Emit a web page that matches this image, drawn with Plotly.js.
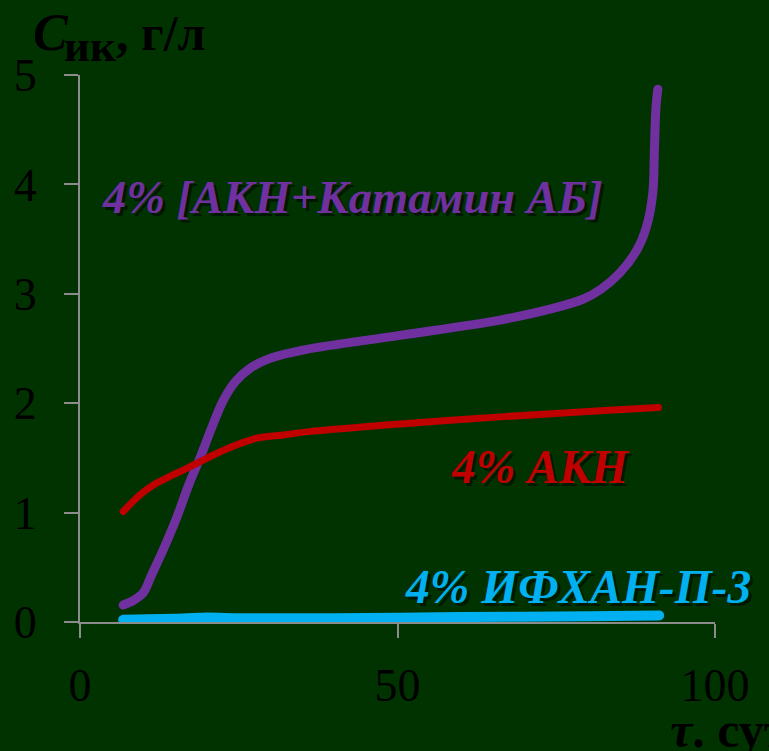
<!DOCTYPE html>
<html>
<head>
<meta charset="utf-8">
<script src="https://cdn.plot.ly/plotly-3.0.1.min.js"></script>
<style>
html,body{margin:0;padding:0;background:#003300;}
path.js-line{stroke-linecap:round !important;stroke-linejoin:round !important;}
</style>
</head>
<body>
<div id="chart" style="width:769px;height:751px;"></div>
<script>
// Data
const purpleX = [6.8, 8.5, 10.0, 11.2, 13.1, 15.2, 17.1, 18.9, 20.7, 22.6, 24.5, 26.8, 29.9, 35.5, 50.4, 66.1, 74, 79.2, 82, 85, 87.7, 89.2, 90.2, 90.45, 90.7, 91.0];
const purpleY = [0.155, 0.2, 0.27, 0.42, 0.66, 0.95, 1.25, 1.5, 1.77, 2.03, 2.2, 2.32, 2.41, 2.49, 2.62, 2.76, 2.86, 2.95, 3.04, 3.19, 3.40, 3.61, 3.92, 4.3, 4.7, 4.87];
const redX = [6.8, 9.4, 11.5, 15.2, 18.4, 21.5, 24.7, 27.8, 32, 36, 50.4, 66.1, 81.9, 91.1];
const redY = [1.01, 1.16, 1.25, 1.36, 1.45, 1.54, 1.62, 1.68, 1.71, 1.74, 1.81, 1.875, 1.93, 1.96];
const cyanX = [6.8, 15, 20, 25, 40, 60, 80, 91.2];
const cyanY = [0.02, 0.03, 0.04, 0.035, 0.035, 0.045, 0.052, 0.06];
const xTicks = [0, 50, 100];
const yTicks = [0, 1, 2, 3, 4, 5];
const seriesNames = ['4% [АКН+Катамин АБ]', '4% АКН', '4% ИФХАН-П-3'];

const W = 769, H = 751;
const M = {l: 80, r: 54, t: 74.5, b: 129};
const pw = W - M.l - M.r, ph = H - M.t - M.b;
const px = v => (v - M.l) / pw;
const py = v => 1 - (v - M.t) / ph;

const serif = 'Liberation Serif, Times New Roman, serif';
const bg = '#003300';

const traces = [
  {x: purpleX, y: purpleY, mode: 'lines', line: {color: '#7030a0', width: 9, shape: 'spline', smoothing: 1.0}, name: seriesNames[0]},
  {x: redX, y: redY, mode: 'lines', line: {color: '#c00000', width: 7, shape: 'spline', smoothing: 0.8}, name: seriesNames[1]},
  {x: cyanX, y: cyanY, mode: 'lines', line: {color: '#00b0f0', width: 10, shape: 'spline', smoothing: 0.6}, name: seriesNames[2]}
];

function label(text, cx, cy, color, size, opts) {
  return Object.assign({
    xref: 'paper', yref: 'paper', x: px(cx), y: py(cy), text: text, showarrow: false,
    xanchor: 'center', yanchor: 'middle',
    font: {family: serif, size: size, color: color}
  }, opts || {});
}
function shadowed(text, cx, cy, color, size) {
  return [
    label(text, cx + 3, cy + 3, 'rgba(0,0,0,0.55)', size),
    label(text, cx, cy, color, size)
  ];
}

const annotations = [].concat(
  shadowed('<b><i>' + seriesNames[0] + '</i></b>', 352, 197, '#7030a0', 46.5),
  shadowed('<b><i>' + seriesNames[1] + '</i></b>', 540, 467, '#c00000', 47.5),
  shadowed('<b><i>' + seriesNames[2] + '</i></b>', 578, 587, '#00b0f0', 47.5),
  [
    label('<b><i>С</i></b>', 31, 32, '#000000', 52, {xanchor: 'left'}),
    label('<b>ик</b>', 62, 45, '#000000', 45, {xanchor: 'left'}),
    label('<b>, г/л</b>', 114, 32, '#000000', 50, {xanchor: 'left'}),
    label('<b><i>τ</i>. сут</b>', 668, 730, '#000000', 50, {xanchor: 'left'})
  ]
);

const layout = {
  width: W, height: H,
  margin: M,
  paper_bgcolor: bg, plot_bgcolor: bg,
  showlegend: false,
  xaxis: {
    range: [0, 100], tickvals: xTicks, ticktext: xTicks.map(String),
    showgrid: false, zeroline: false, showline: true, linecolor: '#8c8c8c', linewidth: 2,
    ticks: 'outside', ticklen: 14, tickwidth: 2, tickcolor: '#8c8c8c',
    tickfont: {family: serif, size: 46, color: '#000000'}, ticklabelstandoff: 8
  },
  yaxis: {
    range: [0, 5], tickvals: yTicks, ticktext: yTicks.map(String),
    showgrid: false, zeroline: false, showline: true, linecolor: '#8c8c8c', linewidth: 2,
    ticks: 'outside', ticklen: 14, tickwidth: 2, tickcolor: '#8c8c8c',
    tickfont: {family: serif, size: 46, color: '#000000'}, ticklabelstandoff: 18
  },
  annotations: annotations
};

Plotly.newPlot('chart', traces, layout, {staticPlot: true, displayModeBar: false});
</script>
</body>
</html>
